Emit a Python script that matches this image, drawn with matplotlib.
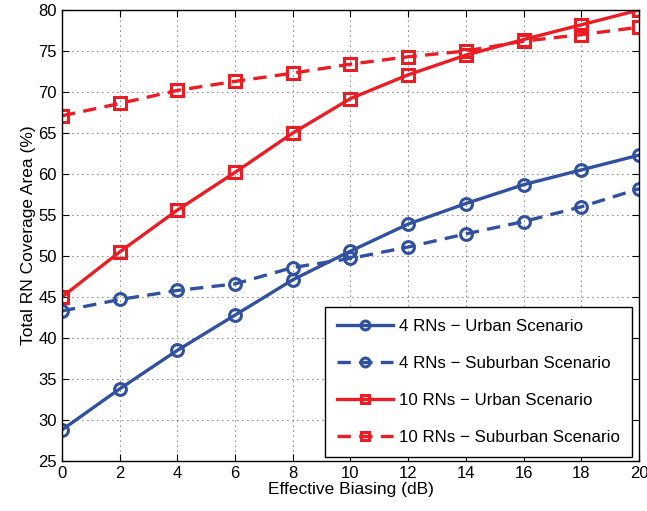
import matplotlib
matplotlib.use("Agg")
import matplotlib.pyplot as plt

plt.rcParams["font.family"] = ["Liberation Sans", "DejaVu Sans"]

biasing = [0, 2, 4, 6, 8, 10, 12, 14, 16, 18, 20]
rn4_urban = [28.8, 33.8, 38.5, 42.8, 47.1, 50.6, 53.9, 56.4, 58.7, 60.5, 62.3]
rn4_suburban = [43.3, 44.7, 45.8, 46.6, 48.6, 49.7, 51.1, 52.7, 54.2, 56.0, 58.2]
rn10_urban = [45.0, 50.5, 55.6, 60.2, 65.0, 69.2, 72.1, 74.5, 76.4, 78.2, 80.0]
rn10_suburban = [67.1, 68.6, 70.2, 71.3, 72.3, 73.4, 74.3, 75.0, 76.2, 77.0, 77.9]

blue = "#3050a0"
red = "#ec1c24"

fig = plt.figure(figsize=(6.47, 5.11), dpi=100)
ax = fig.add_axes([0.0958, 0.0978, 0.8918, 0.8826])

style = dict(lw=2.4, ms=8.5, mew=2.2, mfc="none")
ax.plot(biasing, rn4_urban, "-o", color=blue, label="4 RNs \u2212 Urban Scenario", **style)
ax.plot(biasing, rn4_suburban, "--o", color=blue, label="4 RNs \u2212 Suburban Scenario",
        dashes=(4, 2.5), **style)
ax.plot(biasing, rn10_urban, "-s", color=red, label="10 RNs \u2212 Urban Scenario", **style)
ax.plot(biasing, rn10_suburban, "--s", color=red, label="10 RNs \u2212 Suburban Scenario",
        dashes=(4, 2.5), **style)

ax.set_xlim(0, 20)
ax.set_ylim(25, 80)
ax.set_xticks(range(0, 21, 2))
ax.set_yticks(range(25, 81, 5))
ax.tick_params(direction="in", top=True, right=True, labelsize=12, length=5)
ax.grid(True, color="black", linestyle=(0, (1, 5)), linewidth=0.6)
ax.set_xlabel("Effective Biasing (dB)", fontsize=12.5, labelpad=1)
ax.set_ylabel("Total RN Coverage Area (%)", fontsize=12.5, labelpad=2)
for s in ax.spines.values():
    s.set_linewidth(1.0)

leg = ax.legend(loc="lower right", bbox_to_anchor=(0.988, 0.009), fontsize=12.2,
                fancybox=False, edgecolor="black", framealpha=1, handlelength=3.3,
                labelspacing=1.3, borderpad=0.7, markerscale=0.75, handletextpad=0.35,
                borderaxespad=0)
leg.get_frame().set_linewidth(1.0)

fig.savefig("out.png", dpi=100)
